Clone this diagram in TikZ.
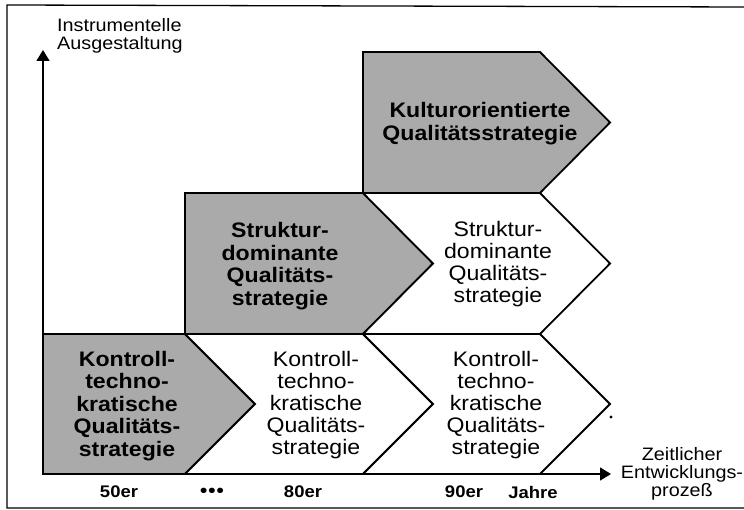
\documentclass[tikz,border=0pt]{standalone}
\usepackage{fontspec}
\setmainfont{Liberation Sans}[FakeStretch=1.1]
\usetikzlibrary{arrows.meta}
\definecolor{shadegray}{RGB}{170,170,170}
\begin{document}
\begin{tikzpicture}[x=1pt,y=-1pt,
  box/.style={draw=black,line width=1.8pt,line join=miter},
  sbox/.style={box,fill=shadegray},
  wbox/.style={box,fill=white},
  lbl/.style={align=center,inner sep=0pt,font=\fontsize{21}{21.8}\selectfont},
  blbl/.style={align=center,inner sep=0pt,font=\fontsize{21}{22.5}\selectfont\bfseries},
  axlbl/.style={inner sep=0pt,font=\fontsize{18}{18}\selectfont},
  yr/.style={inner sep=0pt,font=\fontsize{16.8}{17}\selectfont\bfseries},
  axis/.style={line width=1.4pt,-{Triangle[length=11pt,width=13pt]}},
  frame/.style={line width=1.3pt}]
\useasboundingbox (0,0) rectangle (744,510);
% frame (open on the right)
\coordinate (ftr) at (744,7);
\coordinate (ftl) at (7,5);
\coordinate (fbl) at (7,508);
\coordinate (fbr) at (744,508);
\draw[frame] (ftr) -- (ftl) -- (fbl) -- (fbr);
% top row
\draw[sbox] (363,52) -- (540,52) -- (610,122.5) -- (540,193) -- (363,193) -- cycle;
% middle row
\draw[sbox] (185,193) -- (363,193) -- (433,263.5) -- (363,334) -- (185,334) -- cycle;
\draw[wbox] (363,193) -- (540,193) -- (610,263.5) -- (540,334) -- (363,334) -- (433,263.5) -- cycle;
% bottom row
\draw[sbox] (43,334) -- (185,334) -- (255,404) -- (185,474) -- (43,474) -- cycle;
\draw[wbox] (185,334) -- (363,334) -- (433,404) -- (363,474) -- (185,474) -- (255,404) -- cycle;
\draw[wbox] (363,334) -- (540,334) -- (610,404) -- (540,474) -- (363,474) -- (433,404) -- cycle;
% axes
\coordinate (origin) at (43,474);
\coordinate (ytip) at (43,50);
\coordinate (xtip) at (611,474);
\draw[axis] (origin) -- (ytip);
\draw[axis] (origin) -- (xtip);
% box texts
\node[blbl] (k1) at (480,123.5) {Kulturorientierte\\Qualitätsstrategie};
\node[blbl] (s1) at (280,266) {Struktur-\\dominante\\Qualitäts-\\strategie};
\node[lbl] (s2) at (498,264) {Struktur-\\dominante\\Qualitäts-\\strategie};
\node[blbl] (c1) at (127,406) {Kontroll-\\techno-\\kratische\\Qualitäts-\\strategie};
\node[lbl] (c2) at (316,405) {Kontroll-\\techno-\\kratische\\Qualitäts-\\strategie};
\node[lbl] (c3) at (496,405) {Kontroll-\\techno-\\kratische\\Qualitäts-\\strategie};
% axis labels
\node[axlbl,align=left,anchor=west] (ylab) at (57,36) {Instrumentelle\\Ausgestaltung};
\node[axlbl,align=center] (xlab) at (682,474) {Zeitlicher\\Entwicklungs-\\prozeß};
% year labels
\node[yr] (y50) at (119,492) {50er};
\node[yr,font=\fontsize{20}{20}\selectfont] (ydots) at (212,493) {•\kern0.5pt•\kern0.5pt•};
\node[yr] (y80) at (303,492) {80er};
\node[yr] (y90) at (464,492) {90er};
\node[yr] (yj) at (533,492) {Jahre};
% stray dot
\fill (611,417) circle (1.7);
\end{tikzpicture}
\end{document}
